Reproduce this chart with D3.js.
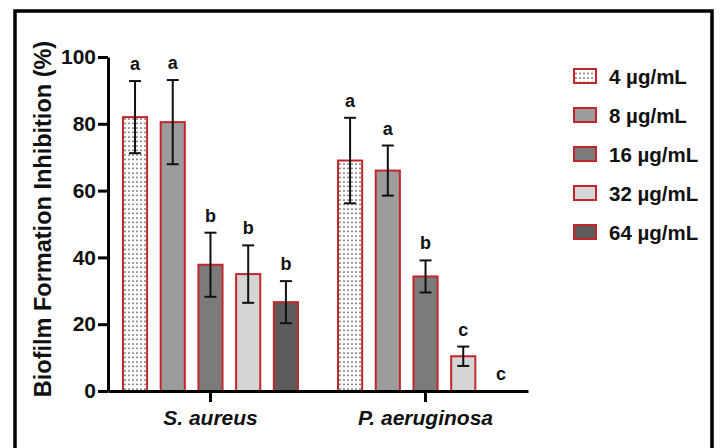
<!DOCTYPE html>
<html>
<head>
<meta charset="utf-8">
<script src="https://cdn.jsdelivr.net/npm/d3@7"></script>
<style>
  body { margin: 0; background: #fff; }
  text { font-family: "Liberation Sans", Arial, sans-serif; font-weight: bold; fill: #111; }
</style>
</head>
<body>
<div id="chart"></div>
<script>
// bacteria groups and concentrations
var groups = ["S. aureus", "P. aeruginosa"];
var concs = ["4 µg/mL", "8 µg/mL", "16 µg/mL", "32 µg/mL", "64 µg/mL"];

// mean inhibition (%) and error per concentration
var saureusMean = [82, 80.5, 37.8, 35, 26.6];
var saureusErr  = [10.8, 12.6, 9.6, 8.6, 6.3];
var saureusLetters = ["a", "a", "b", "b", "b"];

var paeruMean = [69, 66, 34.3, 10.4, 0];
var paeruErr  = [12.8, 7.5, 4.8, 2.9, 0];
var paeruLetters = ["a", "a", "b", "c", "c"];

var yTicks = [0, 20, 40, 60, 80, 100];

var fills = ["url(#dots)", "#9c9c9c", "#7b7b7b", "#d5d5d5", "#5c5c5c"];
var red = "#c2262c";

var rows = [];
concs.forEach(function(c, i){
  rows.push({g: groups[0], c: c, v: saureusMean[i], e: saureusErr[i], l: saureusLetters[i], i: i});
  rows.push({g: groups[1], c: c, v: paeruMean[i], e: paeruErr[i], l: paeruLetters[i], i: i});
});

var svg = d3.select("#chart").append("svg").attr("width", 720).attr("height", 448);

var defs = svg.append("defs");
var pat = defs.append("pattern").attr("id", "dots").attr("patternUnits", "userSpaceOnUse")
    .attr("width", 4).attr("height", 4.5);
pat.append("rect").attr("width", 4).attr("height", 4.5).attr("fill", "#fff");
pat.append("circle").attr("cx", 2).attr("cy", 2).attr("r", 0.8).attr("fill", "#444");

// outer frame
svg.append("rect").attr("x", 15).attr("y", 11).attr("width", 697).attr("height", 460)
    .attr("fill", "none").attr("stroke", "#000").attr("stroke-width", 3.5);

var x0 = d3.scaleBand().domain(groups).range([108, 528]).paddingInner(0.123).paddingOuter(0.038);
var x1 = d3.scaleBand().domain(concs).range([0, x0.bandwidth()]).paddingInner(0.36).paddingOuter(0.18);
var y = d3.scaleLinear().domain([0, 100]).range([391, 57]);

// bars
var bar = svg.append("g").selectAll("g").data(rows).join("g")
    .attr("transform", d => "translate(" + (x0(d.g) + x1(d.c)) + ",0)");

bar.filter(d => d.v > 0).append("rect")
    .attr("x", 0).attr("width", x1.bandwidth())
    .attr("y", d => y(d.v)).attr("height", d => y(0) - y(d.v))
    .attr("fill", d => fills[d.i]).attr("stroke", red).attr("stroke-width", 2);

// error bars
var bw = x1.bandwidth(), cap = 6;
var eb = bar.filter(d => d.e > 0).append("g").attr("stroke", "#111").attr("stroke-width", 2);
eb.append("line").attr("x1", bw / 2).attr("x2", bw / 2)
    .attr("y1", d => y(d.v + d.e)).attr("y2", d => y(d.v - d.e));
eb.append("line").attr("x1", bw / 2 - cap).attr("x2", bw / 2 + cap)
    .attr("y1", d => y(d.v + d.e)).attr("y2", d => y(d.v + d.e));
eb.append("line").attr("x1", bw / 2 - cap).attr("x2", bw / 2 + cap)
    .attr("y1", d => y(d.v - d.e)).attr("y2", d => y(d.v - d.e));

// significance letters
bar.append("text").attr("x", bw / 2).attr("y", d => y(d.v + d.e) - 11)
    .attr("text-anchor", "middle").style("font-size", "18px").text(d => d.l);

// axes
var yAxis = svg.append("g").attr("transform", "translate(108,0)")
    .call(d3.axisLeft(y).tickValues(yTicks).tickSize(10).tickSizeOuter(0).tickPadding(2));
var xAxis = svg.append("g").attr("transform", "translate(0,391)")
    .call(d3.axisBottom(x0).tickSize(11).tickSizeOuter(0).tickPadding(8));

[yAxis, xAxis].forEach(function(a){
  a.select(".domain").attr("stroke", "#000").attr("stroke-width", 3);
  a.selectAll(".tick line").attr("stroke", "#000").attr("stroke-width", 3);
});
yAxis.selectAll(".tick text").attr("fill", "#111").style("font-size", "21px")
    .style("font-family", "Liberation Sans, Arial, sans-serif").style("font-weight", "bold");
xAxis.selectAll(".tick text").attr("fill", "#111").style("font-size", "21px")
    .style("font-family", "Liberation Sans, Arial, sans-serif").style("font-weight", "bold")
    .style("font-style", "italic");

svg.append("text").attr("transform", "translate(51,219) rotate(-90)")
    .attr("text-anchor", "middle").style("font-size", "23.5px")
    .text("Biofilm Formation Inhibition (%)");

// legend
var leg = svg.append("g").selectAll("g").data(concs).join("g")
    .attr("transform", (d, i) => "translate(574," + (76 + i * 39) + ")");
leg.append("rect").attr("x", 0).attr("y", -7).attr("width", 22).attr("height", 14)
    .attr("fill", (d, i) => fills[i]).attr("stroke", red).attr("stroke-width", 2);
leg.append("text").attr("x", 35).attr("y", 7.5).style("font-size", "20.5px").text(d => d);
</script>
</body>
</html>
